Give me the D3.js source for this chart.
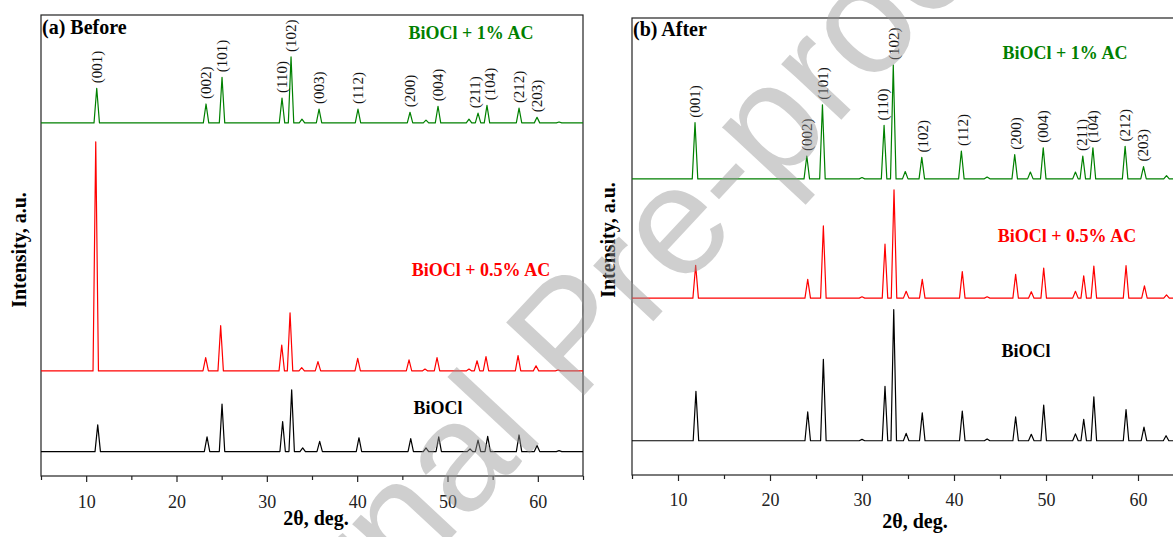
<!DOCTYPE html>
<html lang="en">
<head>
<meta charset="UTF-8">
<title>XRD of BiOCl before and after</title>
<script src="https://cdn.jsdelivr.net/npm/d3@7/dist/d3.min.js"></script>
<style>
  body { margin: 0; background: #fff; }
  svg text { font-family: "Liberation Serif", "Times New Roman", serif; }
</style>
</head>
<body>
<script>
// series order: BiOCl, BiOCl + 0.5% AC, BiOCl + 1% AC
var seriesNames = ["BiOCl", "BiOCl + 0.5% AC", "BiOCl + 1% AC"];
var seriesColors = ["#000000", "#ff0000", "#008000"];
var xTicks = [10, 20, 30, 40, 50, 60];
var xMinor = [5, 15, 25, 35, 45, 55, 65];

// baselines of the stacked patterns (a.u.)
var offsetsBefore = [53, 228, 766];
var offsetsAfter = [75, 387, 648];

// peaks: [2theta, height above baseline (a.u.)]
var before0 = [[11.28, 58], [23.38, 32], [25.04, 103], [31.75, 65], [32.75, 134], [33.97, 8], [35.85, 22],
  [40.2, 30], [45.93, 28], [47.62, 8], [49.03, 32], [52.49, 6], [53.38, 25], [54.45, 33], [57.92, 36],
  [59.91, 13], [62.35, 2]];
var before05 = [[11.06, 497], [23.23, 29], [24.89, 98], [31.65, 56], [32.57, 126], [33.86, 7], [35.66, 20],
  [40.06, 27], [45.74, 24], [47.51, 4], [48.84, 29], [52.38, 4], [53.27, 22], [54.26, 31], [57.81, 33],
  [59.8, 11], [62.24, 2]];
var before1 = [[11.17, 75], [23.27, 41], [25.04, 99], [31.68, 54], [32.68, 143], [33.89, 8], [35.78, 30],
  [40.09, 30], [45.85, 23], [47.62, 6], [48.95, 36], [52.38, 8], [53.38, 21], [54.37, 38], [57.92, 32],
  [59.91, 12], [62.35, 2]];

var after0 = [[11.95, 108], [24.1, 63], [25.8, 178], [30.0, 3], [32.5, 119], [33.45, 287], [34.8, 16], [36.55, 61],
  [40.9, 65], [43.6, 4], [46.7, 52], [48.4, 14], [49.75, 78], [53.2, 15], [54.1, 47], [55.2, 96],
  [58.7, 68], [60.65, 30], [63.05, 11]];
var after05 = [[11.92, 72], [24.1, 41], [25.8, 158], [30.0, 3], [32.5, 118], [33.48, 237], [34.8, 15], [36.55, 41],
  [40.9, 58], [43.6, 3], [46.7, 52], [48.4, 14], [49.75, 66], [53.2, 15], [54.1, 49], [55.2, 70],
  [58.7, 71], [60.7, 27], [63.1, 7]];
var after1 = [[11.85, 123], [24.0, 50], [25.7, 162], [30.0, 3], [32.4, 117], [33.4, 249], [34.7, 16], [36.5, 47],
  [40.8, 61], [43.6, 4], [46.6, 53], [48.3, 15], [49.7, 68], [53.2, 15], [54.0, 50], [55.1, 68],
  [58.6, 71], [60.6, 27], [63.1, 7]];

// reflection labels: [hkl, 2theta where printed]
var hklBefore = [["(001)", 11.2], ["(002)", 23.27], ["(101)", 25.04], ["(110)", 31.68], ["(102)", 32.68],
  ["(003)", 35.78], ["(112)", 40.09], ["(200)", 45.85], ["(004)", 48.95], ["(211)", 52.98],
  ["(104)", 54.7], ["(212)", 57.92], ["(203)", 59.91]];
var hklAfter = [["(001)", 11.85], ["(002)", 24.0], ["(101)", 25.75], ["(110)", 32.3], ["(102)", 33.4],
  ["(102)", 36.6], ["(112)", 40.9], ["(200)", 46.7], ["(004)", 49.7], ["(211)", 53.9],
  ["(104)", 55.1], ["(212)", 58.6], ["(203)", 60.5]];

var W = 1173, H = 537;
var svg = d3.select("body").append("svg")
  .attr("width", W)
  .attr("height", H);

var panels = [
  { title: "(a) Before", left: 41, right: 583, top: 15, bottom: 476,
    offsets: offsetsBefore, peaks: [before0, before05, before1], hkl: hklBefore,
    nameAt: [[438, 414], [481, 276], [471, 39]], titleAt: [42, 34],
    xLabelAt: [316, 525], yLabelAt: [19, 250], tickPad: 13 },
  { title: "(b) After", left: 632, right: 1184, top: 18, bottom: 475,
    offsets: offsetsAfter, peaks: [after0, after05, after1], hkl: hklAfter,
    nameAt: [[1026, 357], [1067, 242], [1065, 59]], titleAt: [633, 36],
    xLabelAt: [915, 528], yLabelAt: [608, 240], tickPad: 12 }
];

var halfWidth = 0.3;

panels.forEach(function(p) {
  var x = d3.scaleLinear().domain([5, 65]).range([p.left, p.right]);
  var y = d3.scaleLinear().domain([0, 1000]).range([p.bottom, p.top]);
  var g = svg.append("g");

  // frame
  g.append("rect")
    .attr("x", p.left).attr("y", p.top)
    .attr("width", p.right - p.left).attr("height", p.bottom - p.top)
    .attr("fill", "none").attr("stroke", "#222").attr("stroke-width", 1.2);

  // patterns
  var line = d3.line()
    .x(function(d) { return x(d[0]); })
    .y(function(d) { return y(d[1]); });

  p.peaks.forEach(function(pk, s) {
    var off = p.offsets[s];
    var pts = [[5, off]];
    pk.forEach(function(d) {
      pts.push([d[0] - halfWidth, off]);
      pts.push([d[0], off + d[1]]);
      pts.push([d[0] + halfWidth, off]);
    });
    pts.push([65, off]);
    g.append("path")
      .attr("d", line(pts))
      .attr("fill", "none")
      .attr("stroke", seriesColors[s])
      .attr("stroke-width", 1.2)
      .attr("stroke-linejoin", "round");

    g.append("text")
      .attr("x", p.nameAt[s][0]).attr("y", p.nameAt[s][1])
      .attr("text-anchor", "middle")
      .attr("font-size", 18).attr("font-weight", "bold")
      .attr("fill", seriesColors[s])
      .text(seriesNames[s]);
  });

  // hkl labels above the top (1% AC) pattern
  var top = p.peaks[2], topOff = p.offsets[2];
  p.hkl.forEach(function(h) {
    var near = top.reduce(function(a, b) {
      return Math.abs(b[0] - h[1]) < Math.abs(a[0] - h[1]) ? b : a;
    });
    var px = x(h[1]), py = y(topOff + near[1]) - 5;
    g.append("text")
      .attr("transform", "translate(" + px + "," + py + ") rotate(-90)")
      .attr("dy", "0.35em")
      .attr("font-size", 15)
      .attr("fill", "#111")
      .text(h[0]);
  });

  // x axis
  var ax = g.append("g")
    .attr("transform", "translate(0," + p.bottom + ")")
    .call(d3.axisBottom(x).tickValues(xTicks).tickSize(6).tickSizeOuter(0).tickPadding(p.tickPad));
  ax.select(".domain").remove();
  ax.selectAll("line").attr("stroke", "#222").attr("stroke-width", 1.2);
  ax.selectAll("text")
    .attr("font-size", 18)
    .attr("fill", "#222")
    .style("font-family", "'Liberation Serif', serif");

  var am = g.append("g")
    .attr("transform", "translate(0," + p.bottom + ")")
    .call(d3.axisBottom(x).tickValues(xMinor).tickSize(4).tickSizeOuter(0).tickFormat(""));
  am.select(".domain").remove();
  am.selectAll("line").attr("stroke", "#222").attr("stroke-width", 1.2);

  g.append("text")
    .attr("x", p.xLabelAt[0]).attr("y", p.xLabelAt[1])
    .attr("text-anchor", "middle")
    .attr("font-size", 20).attr("font-weight", "bold")
    .text("2\u03b8, deg.");

  g.append("text")
    .attr("transform", "translate(" + p.yLabelAt[0] + "," + p.yLabelAt[1] + ") rotate(-90)")
    .attr("text-anchor", "middle")
    .attr("dy", "0.35em")
    .attr("font-size", 20).attr("font-weight", "bold")
    .text("Intensity, a.u.");

  g.append("text")
    .attr("x", p.titleAt[0]).attr("y", p.titleAt[1])
    .attr("font-size", 20).attr("font-weight", "bold")
    .text(p.title);
});

// journal watermark (runs off the page, as in the original)
svg.append("text")
  .attr("transform", "translate(568,333) rotate(-47)")
  .attr("text-anchor", "middle")
  .attr("dy", "0.35em")
  .attr("font-size", 155)
  .attr("fill", "#969696")
  .attr("opacity", 0.45)
  .style("font-family", "'Liberation Sans', Arial, sans-serif")
  .text("Journal Pre-proof");
</script>
</body>
</html>
